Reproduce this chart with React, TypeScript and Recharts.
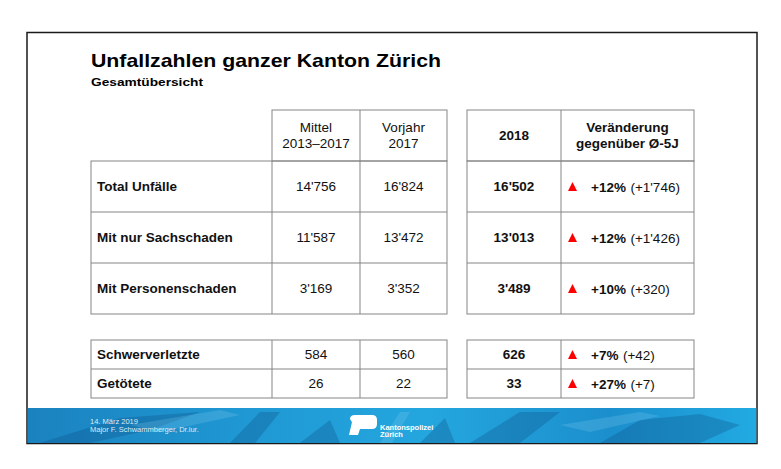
import { ComposedChart, Customized } from "recharts";

const title = "Unfallzahlen ganzer Kanton Zürich";
const subtitle = "Gesamtübersicht";

const rowLabels = [
  "Total Unfälle",
  "Mit nur Sachschaden",
  "Mit Personenschaden",
  "Schwerverletzte",
  "Getötete",
];
const mittelValues = [14756, 11587, 3169, 584, 26];
const vorjahrValues = [16824, 13472, 3352, 560, 22];
const currentValues = [16502, 13013, 3489, 626, 33];
const pctChange = [12, 12, 10, 7, 27];
const absChange = [1746, 1426, 320, 42, 7];

const leftHeaders = [
  ["Mittel", "2013–2017"],
  ["Vorjahr", "2017"],
];
const rightHeaders = [["2018"], ["Veränderung", "gegenüber Ø-5J"]];

const footerLines = ["14. März 2019", "Major F. Schwammberger, Dr.iur."];
const logoLines = ["Kantonspolizei", "Zürich"];

// layout
const W = 781;
const H = 469;
const FONT = "'Liberation Sans', Arial, sans-serif";
const GRID = "#858585";

const labelCol = [91, 272];
const leftCols = [
  [272, 360],
  [360, 447],
];
const rightCols = [
  [467, 561],
  [561, 694],
];
const headerRow = [110, 161];
const rowBands = [
  [161, 212],
  [212, 263],
  [263, 314],
  [340, 369],
  [369, 398],
];
const blocks = [
  [0, 2],
  [3, 4],
];

const fmt = (n: number) => String(n).replace(/\B(?=(\d{3})+(?!\d))/g, "'");

const cx = (c: number[]) => (c[0] + c[1]) / 2;
const cy = (r: number[]) => (r[0] + r[1]) / 2;

const HeaderText = ({ lines, x, bold }: { lines: string[]; x: number; bold?: boolean }) => {
  const mid = cy(headerRow);
  const step = 16.5;
  return (
    <text
      x={x}
      textAnchor="middle"
      fontFamily={FONT}
      fontSize={13.5}
      fontWeight={bold ? "bold" : "normal"}
      fill="#111"
    >
      {lines.map((l, i) => (
        <tspan
          key={i}
          x={x}
          y={mid + (i - (lines.length - 1) / 2) * step}
          dominantBaseline="central"
        >
          {l}
        </tspan>
      ))}
    </text>
  );
};

const Box = ({ x0, x1, y0, y1 }: { x0: number; x1: number; y0: number; y1: number }) => (
  <rect x={x0} y={y0} width={x1 - x0} height={y1 - y0} fill="none" stroke={GRID} strokeWidth={1} />
);

const TableLayer = () => {
  const hLines: JSX.Element[] = [];
  const cells: JSX.Element[] = [];

  blocks.forEach(([a, b], bi) => {
    const top = rowBands[a][0];
    const bottom = rowBands[b][1];
    hLines.push(<Box key={`lb${bi}`} x0={labelCol[0]} x1={leftCols[1][1]} y0={top} y1={bottom} />);
    leftCols.forEach((c, ci) =>
      hLines.push(
        <line key={`lv${bi}${ci}`} x1={c[0]} x2={c[0]} y1={top} y2={bottom} stroke={GRID} />
      )
    );
    hLines.push(<Box key={`rb${bi}`} x0={rightCols[0][0]} x1={rightCols[1][1]} y0={top} y1={bottom} />);
    hLines.push(
      <line key={`rv${bi}`} x1={rightCols[1][0]} x2={rightCols[1][0]} y1={top} y2={bottom} stroke={GRID} />
    );
    for (let r = a; r < b; r++) {
      const y = rowBands[r][1];
      hLines.push(<line key={`lh${r}`} x1={labelCol[0]} x2={leftCols[1][1]} y1={y} y2={y} stroke={GRID} />);
      hLines.push(<line key={`rh${r}`} x1={rightCols[0][0]} x2={rightCols[1][1]} y1={y} y2={y} stroke={GRID} />);
    }
  });

  rowLabels.forEach((label, i) => {
    const y = cy(rowBands[i]);
    const tx = rightCols[1][0] + 21;
    cells.push(
      <g key={`row${i}`} fontFamily={FONT} fontSize={13.5} fill="#111">
        <text x={labelCol[0] + 6} y={y} dominantBaseline="central" fontWeight="bold">
          {label}
        </text>
        <text x={cx(leftCols[0])} y={y} dominantBaseline="central" textAnchor="middle">
          {fmt(mittelValues[i])}
        </text>
        <text x={cx(leftCols[1])} y={y} dominantBaseline="central" textAnchor="middle">
          {fmt(vorjahrValues[i])}
        </text>
        <text x={cx(rightCols[0])} y={y} dominantBaseline="central" textAnchor="middle" fontWeight="bold">
          {fmt(currentValues[i])}
        </text>
        <path
          d={`M${tx - 14},${y + 4.5} L${tx - 9.5},${y - 4.5} L${tx - 5},${y + 4.5} Z`}
          fill="#ff0000"
        />
        <text x={tx + 9} y={y} dominantBaseline="central">
          <tspan fontWeight="bold">{`+${pctChange[i]}%`}</tspan>
          <tspan dx={4.5}>{`(+${fmt(absChange[i])})`}</tspan>
        </text>
      </g>
    );
  });

  return (
    <g>
      <rect x={0} y={0} width={W} height={H} fill="#fff" />
      <rect x={27} y={32.5} width={730} height={411} fill="#fff" stroke="#1a1a1a" strokeWidth={1.5} />

      <text
        x={91}
        y={66.5}
        fontFamily={FONT}
        fontSize={19}
        fontWeight="bold"
        fill="#000"
        textLength={350}
        lengthAdjust="spacingAndGlyphs"
      >
        {title}
      </text>
      <text
        x={91}
        y={86}
        fontFamily={FONT}
        fontSize={11.5}
        fontWeight="bold"
        fill="#000"
        textLength={112}
        lengthAdjust="spacingAndGlyphs"
      >
        {subtitle}
      </text>

      <Box x0={leftCols[0][0]} x1={leftCols[1][1]} y0={headerRow[0]} y1={headerRow[1]} />
      <line x1={leftCols[1][0]} x2={leftCols[1][0]} y1={headerRow[0]} y2={headerRow[1]} stroke={GRID} />
      <Box x0={rightCols[0][0]} x1={rightCols[1][1]} y0={headerRow[0]} y1={headerRow[1]} />
      <line x1={rightCols[1][0]} x2={rightCols[1][0]} y1={headerRow[0]} y2={headerRow[1]} stroke={GRID} />
      {leftHeaders.map((h, i) => (
        <HeaderText key={`lh${i}`} lines={h} x={cx(leftCols[i])} />
      ))}
      {rightHeaders.map((h, i) => (
        <HeaderText key={`rh${i}`} lines={h} x={cx(rightCols[i])} bold />
      ))}

      {hLines}
      {cells}

      {/* footer band */}
      <defs>
        <linearGradient id="footerGrad" x1="0" y1="0" x2="1" y2="0">
          <stop offset="0" stopColor="#1a82bf" />
          <stop offset="0.3" stopColor="#1f98d3" />
          <stop offset="0.55" stopColor="#24a6de" />
          <stop offset="0.8" stopColor="#1b8fcd" />
          <stop offset="1" stopColor="#22aae2" />
        </linearGradient>
      </defs>
      <rect x={27.75} y={408} width={728.5} height={35} fill="url(#footerGrad)" />
      <g fill="#0d4f86" opacity={0.3}>
        <path d="M40,443 L120,418 L200,412 L150,430 L90,443 Z" />
        <path d="M230,443 L260,412 L280,412 L255,443 Z" />
        <path d="M300,443 L330,420 L340,443 Z" />
        <path d="M420,443 L445,418 L455,443 Z" />
        <path d="M470,443 L520,412 L560,412 L520,443 Z" />
        <path d="M600,443 L640,420 L700,414 L740,425 L700,443 Z" />
      </g>
      <g fill="#8fd3f2" opacity={0.22}>
        <path d="M130,425 L220,410 L240,415 L160,432 Z" />
        <path d="M380,443 L400,412 L410,412 L392,443 Z" />
        <path d="M560,425 L640,412 L660,416 L590,432 Z" />
      </g>
      {footerLines.map((l, i) => (
        <text
          key={i}
          x={90}
          y={421 + i * 8.5}
          fontFamily={FONT}
          fontSize={7.5}
          fill="#dcebf5"
          dominantBaseline="central"
        >
          {l}
        </text>
      ))}
      <path
        d="M350,419 Q350,415 355,415 L372,415 Q377,415 377,420 L377,424 Q377,429 372,429 L360,429 L358,435 L349,435 L352,422 Q353,419 356,419 L368,419 L367,424 L358,424 L357,427 L355,427 Z"
        fill="#fff"
      />
      {logoLines.map((l, i) => (
        <text
          key={i}
          x={380}
          y={427 + i * 7.5}
          fontFamily={FONT}
          fontSize={7.5}
          fontWeight="bold"
          fill="#fff"
          dominantBaseline="central"
        >
          {l}
        </text>
      ))}
    </g>
  );
};

export default function App() {
  return (
    <div style={{ position: "absolute", left: 0, top: 0, width: W, height: H }}>
      <ComposedChart width={W} height={H} data={[]} margin={{ top: 0, right: 0, bottom: 0, left: 0 }}>
        <Customized component={TableLayer} />
      </ComposedChart>
    </div>
  );
}
